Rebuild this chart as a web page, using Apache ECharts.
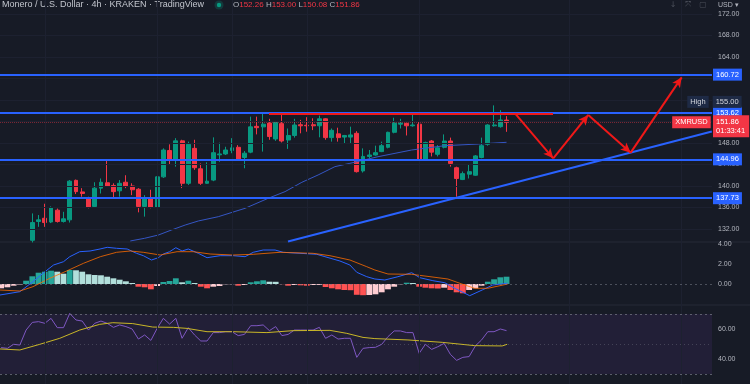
<!DOCTYPE html>
<html><head><meta charset="utf-8">
<script src="https://cdn.jsdelivr.net/npm/echarts@6/dist/echarts.min.js"></script>
<style>html,body{margin:0;padding:0;background:#171b26;}#c{width:750px;height:384px;}</style>
</head><body><div id="c"></div>
<script>
// ---------- data ----------
const firstCandle = 0;
const candleOpen  = [129.9,133.4,134.0,133.3,135.5,133.4,133.7,141.05,138.9,137.8,136.2,139.6,140.6,140.1,139.1,140.7,140.0,139.4,136.2,137.7,136.0,141.7,146.6,144.8,148.4,140.5,147.0,143.2,140.5,141.1,145.8,145.96,146.6,147.2,145.3,146.3,151.1,151.0,151.7,148.75,151.6,148.56,149.4,151.4,151.3,151.4,151.2,152.5,149.0,149.7,149.1,149.1,149.8,142.8,145.5,145.77,146.4,147.2,149.99,151.5,151.66,151.2,151.5,145.0,148.37,145.9,147.2,148.37,143.4,141.2,142.2,142.0,145.3,147.75,151.2,151.04,152.26];
const candleClose = [133.2,133.7,133.2,136.0,133.4,133.9,140.9,138.95,138.6,136.0,139.6,140.7,140.0,138.95,140.5,139.9,139.3,136.2,137.8,136.0,141.7,146.7,144.8,148.4,140.5,147.75,143.4,140.5,140.9,146.2,145.96,146.7,147.1,145.0,146.1,151.0,150.85,151.5,149.2,151.85,148.37,149.4,151.35,151.2,151.2,151.2,152.5,149.0,150.36,149.0,149.4,149.5,142.67,145.5,145.77,146.2,147.5,149.99,151.7,151.7,151.2,151.35,145.0,148.1,146.3,147.1,148.37,144.2,141.4,142.3,142.67,145.6,147.5,151.35,151.35,152.28,151.86];
const candleLow   = [129.5,132.4,132.4,133.1,133.2,133.2,133.2,138.5,138.0,135.85,136.0,138.6,139.9,137.8,138.0,139.6,138.3,135.1,134.3,135.85,135.9,141.5,143.9,143.6,139.6,140.2,143.0,140.2,140.4,140.9,144.5,145.77,146.1,144.8,143.3,146.1,149.6,146.4,148.6,148.4,148.1,146.9,149.0,149.8,150.1,150.4,149.06,148.6,148.25,148.25,147.9,147.9,142.5,142.5,145.15,145.65,146.3,147.0,149.8,150.7,149.4,151.04,144.8,144.7,145.5,145.5,147.0,143.6,138.0,141.1,141.4,141.9,145.15,147.5,151.04,150.85,150.08];
const candleHigh  = [134.9,134.6,136.7,136.2,135.8,135.2,141.1,141.2,139.6,138.0,140.7,141.4,144.8,140.5,141.1,142.0,140.5,139.6,138.3,139.3,141.8,147.0,147.75,148.9,148.6,148.25,148.6,144.2,144.4,149.05,148.06,147.3,148.9,147.6,146.5,152.9,152.9,153.5,152.5,152.1,153.2,150.7,152.5,152.3,152.8,152.6,153.1,152.6,150.7,150.85,149.5,151.04,150.2,147.0,146.7,147.5,148.25,150.1,152.7,152.5,151.7,153.3,152.1,148.25,148.56,147.6,149.6,149.0,143.6,142.7,144.1,145.77,149.0,151.5,155.0,154.1,153.0];

const maX = [15.7,18,20.2,22.3,24.5,26.6,29.8,34.1,37.8,40.5,43.2,45.8,48.5,50.9,55.4,60.8,66.1,71.5,76];
const maY = [129.77,130.27,130.88,131.81,132.74,133.49,134.29,135.85,137.71,138.95,140.69,142.05,143.6,144.22,145.45,146.7,147.5,147.81,148.13];

const firstOsc = -5;
const macdHist = [-0.43,-0.33,-0.17,-0.05,0.33,0.77,1.13,1.23,1.33,1.23,1.03,1.4,1.37,1.23,0.97,0.9,0.87,0.73,0.57,0.43,0.27,0.1,-0.27,-0.33,-0.53,-0.2,0.2,0.3,0.57,0.17,0.33,0.1,-0.27,-0.43,-0.27,-0.2,-0.03,-0.02,-0.17,-0.1,0.17,0.27,0.37,0.23,0.22,-0.02,-0.17,-0.1,-0.13,-0.17,-0.1,-0.09,-0.3,-0.43,-0.53,-0.6,-0.62,-1.08,-1.12,-1.1,-1.03,-0.83,-0.53,-0.27,-0.03,0.13,0.1,-0.27,-0.37,-0.43,-0.45,-0.37,-0.6,-0.83,-0.93,-0.6,-0.43,-0.17,0.23,0.47,0.67,0.73];
const macdX = [-5.2,-2,0.1,1.7,3.4,5,6,7.6,9.25,10.85,12,13.5,15.2,16.7,17.8,19.1,20.2,21,22,23,24,25,26.6,28,30.1,32.2,34.1,35.4,37,38.9,40.2,42.9,45.6,46.9,49.3,50.9,52,53.6,54.9,56.5,58.6,60.8,62.1,64.2,66.1,67.7,70.1,72.1,73.8,76.2];
const macdY = [-1.1,-0.77,0.23,1.07,1.9,2.23,2.73,3.23,3.3,3.5,3.67,3.57,3.5,3.07,2.83,2.4,2.63,3.0,3.23,3.63,3.3,3.5,3.07,2.63,2.83,2.83,2.73,3.17,3.4,3.4,3.17,3.07,2.97,2.73,2.3,1.9,1.17,0.73,0.5,0.4,0.73,1.13,0.63,0.33,0.13,-0.43,-1.17,-0.6,-0.1,0.07];
const signalX = [-5.2,-2,0.1,2.8,5.5,8.2,10.9,13.5,15.7,17.8,20.5,23.2,25.8,28.5,32.2,35.4,39.7,45,47.7,50.9,53.6,54.9,57,60.8,66.6,69.3,70.9,73,76.2];
const signalY = [-0.6,-0.7,-0.27,0.57,1.3,2.07,2.73,3.17,3.3,3.17,2.9,3.23,3.23,3.0,2.9,2.97,3.17,3.07,2.83,2.4,1.73,1.4,1.0,0.97,0.5,-0.1,-0.43,-0.43,0];

const rsi = [47.6,47.1,49.8,49.3,59.3,64.4,64.9,63.8,67.1,60.9,60.9,70.4,66,65.3,59.3,63.8,65.3,63.8,61.1,62.7,61.6,60,53.3,56,52.4,60.4,67.1,63.3,67.1,53.8,60.9,56,52,52,57.6,57.6,58.2,58.2,55.6,56.4,62.2,62.2,62.7,58.9,61.6,55.6,56.4,59.3,59.3,59.3,59.3,61.1,53.8,56,53.3,53.8,53.8,41.1,47.1,47.6,47.8,49.8,54.9,58.7,58.7,57.6,57.6,43.8,49.8,46.4,48.2,50.4,43.1,39.1,41.1,41.6,48.7,52.7,58.2,58.2,60,58.9];
const rsiMaX = [-5.2,-2,1.2,4.4,7.6,10.8,12.9,16.1,19.3,22.6,24.8,28,32.2,37.6,41.8,47.7,50.4,53,54.9,60.2,65.7,70.9,75.3,76.1];
const rsiMaY = [46.7,46,49.8,53.8,59.3,63.1,64.2,63.6,61.3,61.1,60.4,58.2,58.2,57.6,58.9,59.1,57.1,54.4,53.6,52.7,51.1,48.9,48.7,49.8];

const priceTicks = [132,136,140,144,148,152,156,160,164,168,172];
const macdTicks = [0,2,4];
const rsiTicks = [40,60];
const dayGrid = [2,20,32,44,62,86,104];
const levels = [160.72,153.62,144.96,137.73];
const resistX = [37.93,83.45], resistY = 153.45;
const zigX = [77.36,83.49,89.1,95.9,104.07];
const zigY = [153.53,145.15,153.21,146.2,160.22];
const trendX = [40.98,108.9], trendY = [129.67,150.13];
const lastPrice = 151.86, highPrice = 155.00;
const ohlc = {O:'152.26',H:'153.00',L:'150.08',C:'151.86'};

// ---------- chart ----------
const BG = '#171b26', BLUE = '#2962ff', RED = '#f23645', UP = '#089981', TXT = '#b2b5be', GRIDC = '#1d2130';
const FONT = '"Liberation Sans", Arial, sans-serif';
const XMIN = -5.18, XMAX = 108.93;
const chart = echarts.init(document.getElementById('c'));

const candles = candleOpen.map((o,k)=>[firstCandle+k, o, candleClose[k], candleLow[k], candleHigh[k]]);
const hist = macdHist.map((v,k)=>{
  const prev = k>0 ? macdHist[k-1] : v;
  const col = v>=0 ? (v>prev?'#26a69a':'#b2dfdb') : (v<prev?'#ff5252':'#ffcdd2');
  return {value:[firstOsc+k, v], itemStyle:{color:col}};
});
const pairs = (xs,ys)=>xs.map((x,k)=>[x,ys[k]]);
const boxLabel = (text,bg,pos,extra)=>Object.assign({show:true, position:pos, distance:1, formatter:text,
  backgroundColor:bg, color:'#ffffff', fontSize:7.5, fontFamily:FONT, padding:[2,3,1,3], lineHeight:9}, extra||{});
const vGrid = ()=>dayGrid.map(x=>({xAxis:x, lineStyle:{color:GRIDC, width:1, type:'solid'}, label:{show:false}}));

const mainLines = vGrid();
priceTicks.forEach(v=>mainLines.push({yAxis:v, lineStyle:{color:GRIDC, width:1, type:'solid'}, label:{show:false}}));
levels.forEach(v=>mainLines.push({yAxis:v, lineStyle:{color:BLUE, width:2, type:'solid'}, label:boxLabel(v.toFixed(2),BLUE,'end')}));
mainLines.push({yAxis:lastPrice, lineStyle:{color:'rgba(242,54,69,0.45)', width:1, type:'dotted'},
  label:boxLabel('{a|'+lastPrice.toFixed(2)+'}\n{b|01:33:41}',RED,'end',{offset:[0,4], padding:[2,4,2,3],
    rich:{a:{color:'#fff',fontSize:7.5,fontFamily:FONT,lineHeight:9},b:{color:'#fff',fontSize:7.5,fontFamily:FONT,lineHeight:9}}})});
mainLines.push([{coord:[resistX[0],resistY], symbol:'none'},{coord:[resistX[1],resistY], symbol:'none', lineStyle:{color:'#f01818', width:2, type:'solid'}, label:{show:false}}]);
mainLines.push([{coord:[trendX[0],trendY[0]], symbol:'none'},{coord:[trendX[1],trendY[1]], symbol:'none', lineStyle:{color:BLUE, width:2, type:'solid'}, label:{show:false}}]);
for(let k=0;k<zigX.length-1;k++){
  mainLines.push([{coord:[zigX[k],zigY[k]], symbol:'none'},{coord:[zigX[k+1],zigY[k+1]], symbol:'arrow', symbolSize:[7,10],
    lineStyle:{color:'#f01818', width:2, type:'solid'}, itemStyle:{color:'#f01818'}, label:{show:false}}]);
}

const axisY = (gi,min,max,ticks)=>({type:'value', gridIndex:gi, position:'right', min:min, max:max,
  axisLine:{show:false}, axisTick:{show:false}, splitLine:{show:false},
  axisLabel:{customValues:ticks, color:TXT, fontSize:7, fontFamily:FONT, margin:6, formatter:v=>v.toFixed(2)}});
const axisX = gi=>({type:'value', gridIndex:gi, min:XMIN, max:XMAX, show:false});

chart.setOption({
  backgroundColor: BG,
  animation:false,
  grid:[{left:0,right:38,top:0,height:242},{left:0,right:38,top:242,height:63},{left:0,right:38,top:305,height:79}],
  xAxis:[axisX(0),axisX(1),axisX(2)],
  yAxis:[axisY(0,129.581,174.605,priceTicks), axisY(1,-2.1,4.2,macdTicks), axisY(2,23.33,76,rsiTicks)],
  series:[
    {type:'candlestick', xAxisIndex:0, yAxisIndex:0, data:candles, barWidth:4.4, clip:true,
     itemStyle:{color:UP, color0:RED, borderColor:UP, borderColor0:RED, borderWidth:1}},
    {type:'line', name:'MA', xAxisIndex:0, yAxisIndex:0, data:pairs(maX,maY), showSymbol:false, clip:true,
     lineStyle:{color:'#3556c4', width:1}, z:3,
     markLine:{silent:true, symbol:'none', animation:false, data:mainLines},
     markPoint:{silent:true, symbol:'circle', symbolSize:0, animation:false, data:[
       {coord:[XMAX-0.05,lastPrice], label:boxLabel('XMRUSD',RED,'left',{distance:1})},
       {coord:[XMAX-0.05,highPrice], label:boxLabel('High','#1e2a45','left',{distance:3, offset:[0,-3.5], color:'#d1d4dc'})},
       {coord:[XMAX-0.05,highPrice], label:boxLabel(highPrice.toFixed(2),'#1e2a45','right',{distance:1, offset:[0,-3.5], color:'#d1d4dc'})}
     ]}},
    {type:'bar', xAxisIndex:1, yAxisIndex:1, data:hist, barWidth:5.8, z:2},
    {type:'line', xAxisIndex:1, yAxisIndex:1, data:pairs(macdX,macdY), showSymbol:false, lineStyle:{color:BLUE, width:1}, z:3,
     markLine:{silent:true, symbol:'none', data:vGrid().concat([{yAxis:0, lineStyle:{color:'rgba(120,123,134,0.55)', type:[2,3], width:1}, label:{show:false}}])}},
    {type:'line', xAxisIndex:1, yAxisIndex:1, data:pairs(signalX,signalY), showSymbol:false, lineStyle:{color:'#ff6d00', width:1, opacity:0.8}, z:3},
    {type:'line', xAxisIndex:2, yAxisIndex:2, data:rsi.map((v,k)=>[firstOsc+k,v]), showSymbol:false, lineStyle:{color:'#7e57c2', width:1}, z:4,
     markArea:{silent:true, itemStyle:{color:'#221f37'}, data:[[{yAxis:70},{yAxis:30}]]},
     markLine:{silent:true, symbol:'none', data:vGrid().concat([
       {yAxis:70, lineStyle:{color:'rgba(120,123,134,0.7)', type:[2,3], width:1}, label:{show:false}},
       {yAxis:50, lineStyle:{color:'rgba(120,123,134,0.4)', type:[1,3], width:1}, label:{show:false}},
       {yAxis:30, lineStyle:{color:'rgba(120,123,134,0.7)', type:[2,3], width:1}, label:{show:false}}])}},
    {type:'line', xAxisIndex:2, yAxisIndex:2, data:pairs(rsiMaX,rsiMaY), showSymbol:false, lineStyle:{color:'#c9b728', width:1}, z:4}
  ],
  graphic:[
    {type:'line', shape:{x1:0,y1:242,x2:750,y2:242}, style:{stroke:'#262a36', lineWidth:1}},
    {type:'line', shape:{x1:0,y1:305,x2:750,y2:305}, style:{stroke:'#262a36', lineWidth:1}},
    {type:'text', x:2, y:5, style:{text:'Monero / U.S. Dollar · 4h · KRAKEN · TradingView', fill:'#c3c6ce', font:'9px '+FONT, verticalAlign:'middle'}},
    {type:'circle', shape:{cx:219, cy:5, r:4.5}, style:{fill:'rgba(8,153,129,0.25)'}},
    {type:'circle', shape:{cx:219, cy:5, r:2.2}, style:{fill:UP}},
    {type:'text', x:233, y:5, style:{text:'{l|O}{v|'+ohlc.O+'} {l|H}{v|'+ohlc.H+'} {l|L}{v|'+ohlc.L+'} {l|C}{v|'+ohlc.C+'}',
      font:'8px '+FONT, verticalAlign:'middle', rich:{l:{fill:TXT, font:'8px '+FONT}, v:{fill:RED, font:'8px '+FONT}}}},
    {type:'text', x:718, y:5, style:{text:'USD ▾', fill:TXT, font:'7px '+FONT, verticalAlign:'middle'}},
    {type:'text', x:673, y:5, style:{text:'↓', fill:'#4c505b', font:'8px DejaVu Sans', align:'center', verticalAlign:'middle'}},
    {type:'text', x:688, y:5, style:{text:'⤧', fill:'#4c505b', font:'8px DejaVu Sans', align:'center', verticalAlign:'middle'}},
    {type:'text', x:703, y:5, style:{text:'▢', fill:'#4c505b', font:'8px DejaVu Sans', align:'center', verticalAlign:'middle'}}
  ]
});
</script></body></html>
